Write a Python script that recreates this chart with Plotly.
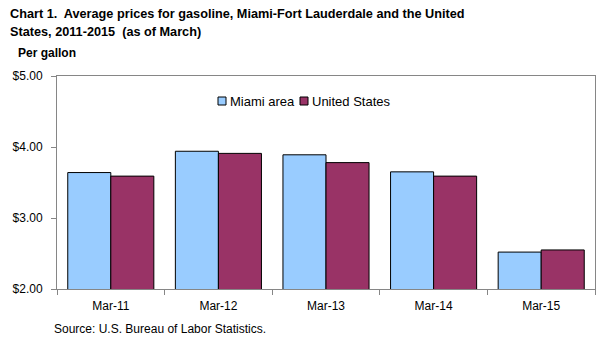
import plotly.graph_objects as go

categories = ["Mar-11", "Mar-12", "Mar-13", "Mar-14", "Mar-15"]
miami = [3.64, 3.94, 3.89, 3.65, 2.52]
us = [3.59, 3.91, 3.78, 3.59, 2.55]
series_names = ["Miami area", "United States"]
series_colors = ["#99CCFF", "#993366"]
yticks = [2, 3, 4, 5]
yticklabels = ["$2.00", "$3.00", "$4.00", "$5.00"]

W, H = 601, 343
L, R, T, B = 57, 6, 76, 54
ph = H - T - B
pw = W - L - R

def py(ypx):
    return (H - B - ypx) / ph

def px(xpx):
    return (xpx - L) / pw

FONT = "Liberation Sans, Arial, sans-serif"

fig = go.Figure()
for vals, name, col in zip([miami, us], series_names, series_colors):
    fig.add_trace(go.Bar(x=categories, y=vals, name=name, showlegend=False,
                         marker=dict(color=col, line=dict(color="black", width=1))))

# compact legend (swatch + label), placed like the original
legend_x = [218, 300]
shapes = []
annotations = []
for lx, name, col in zip(legend_x, series_names, series_colors):
    shapes.append(dict(type="rect", xref="paper", yref="paper",
                       x0=px(lx), x1=px(lx + 8), y0=py(105), y1=py(97),
                       fillcolor=col, line=dict(color="black", width=1)))
    annotations.append(dict(text=name, xref="paper", yref="paper", x=px(lx + 10), y=py(101),
                            xanchor="left", yanchor="middle", showarrow=False,
                            font=dict(size=13, family=FONT)))

annotations += [
    dict(text="<b>Chart 1.  Average prices for gasoline, Miami-Fort Lauderdale and the United</b>",
         xref="paper", yref="paper", x=px(8), y=py(14.5), xanchor="left", yanchor="middle",
         align="left", showarrow=False, font=dict(size=12.7, family=FONT)),
    dict(text="<b>States, 2011-2015  (as of March)</b>",
         xref="paper", yref="paper", x=px(8), y=py(32), xanchor="left", yanchor="middle",
         align="left", showarrow=False, font=dict(size=12.7, family=FONT)),
    dict(text="<b>Per gallon</b>", xref="paper", yref="paper", x=px(16), y=py(52.5),
         xanchor="left", yanchor="middle", showarrow=False, font=dict(size=12, family=FONT)),
    dict(text="Source: U.S. Bureau of Labor Statistics.", xref="paper", yref="paper",
         x=px(52), y=py(329), xanchor="left", yanchor="middle", showarrow=False,
         font=dict(size=12, family=FONT)),
]

fig.update_layout(
    width=W, height=H,
    margin=dict(l=L, r=R, t=T, b=B, pad=0),
    paper_bgcolor="white", plot_bgcolor="white",
    barmode="group", bargap=0.2, bargroupgap=0,
    font=dict(family=FONT, size=12, color="black"),
    showlegend=False,
    xaxis=dict(showline=True, linecolor="#868686", linewidth=1, mirror=True,
               ticks="outside", ticklen=5, tickcolor="#868686", tickson="boundaries",
               ticklabelstandoff=6, showgrid=False, tickfont=dict(size=12)),
    yaxis=dict(range=[2, 5], tickvals=yticks, ticktext=yticklabels,
               showline=True, linecolor="#868686", linewidth=1, mirror=True,
               ticks="outside", ticklen=5, tickcolor="#868686", ticklabelstandoff=6,
               showgrid=False, zeroline=False, tickfont=dict(size=12)),
    shapes=shapes,
    annotations=annotations,
)

fig.write_html("out.html")
